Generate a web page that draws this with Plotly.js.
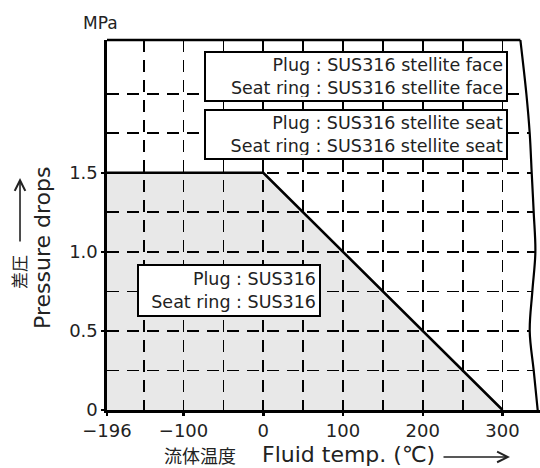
<!DOCTYPE html>
<html>
<head>
<meta charset="utf-8">
<script src="https://cdn.plot.ly/plotly-3.0.1.min.js"></script>
<style>html,body{margin:0;padding:0;background:#fff}#chart{width:540px;height:468px}</style>
</head>
<body>
<div id="chart"></div>
<script>
// ---- data ----
var limitTemp = [-196, 0, 300];          // °C
var limitPressure = [1.5, 1.5, 0];       // MPa
var xTickVals = [-196, -100, 0, 100, 200, 300];
var xTickText = ['\u2212196', '\u2212100', '0', '100', '200', '300'];
var xMinorVals = [-150, -50, 50, 150, 250];
var yTickVals = [0, 0.5, 1.0, 1.5];
var yTickText = ['0', '0.5', '1.0', '1.5'];
var yMinorVals = [0.25, 0.75, 1.25, 1.75, 2.0];
var boxTexts = [
  'Plug : SUS316 stellite face<br>Seat ring : SUS316 stellite face',
  'Plug : SUS316 stellite seat<br>Seat ring : SUS316 stellite seat',
  'Plug : SUS316<br>Seat ring : SUS316'
];
// break line on the right edge (decoration)
var breakX = [322.4, 329.9, 334.1, 336.6, 339.1, 341.2, 337.4, 334.1, 339.1, 344.1];
var breakY = [2.34, 2.0, 1.75, 1.5, 1.25, 1.0, 0.75, 0.5, 0.25, 0];

var XMIN = -196, XMAX = 347, YMAX = 2.34;
var F = 'DejaVu Sans, Noto Sans CJK JP, sans-serif';
var FJ = 'Noto Sans CJK JP, DejaVu Sans, sans-serif';

var traces = [
  { // white cover to the right of the break line
    x: breakX.concat([XMAX + 5, XMAX + 5]),
    y: breakY.concat([0, YMAX + 0.1]),
    mode: 'lines', fill: 'toself', fillcolor: '#ffffff',
    line: {width: 0, shape: 'spline'}, hoverinfo: 'skip', showlegend: false
  },
  { // shaded allowed region
    x: [limitTemp[0]].concat(limitTemp),
    y: [0].concat(limitPressure),
    mode: 'lines', fill: 'toself', fillcolor: 'rgba(0,0,0,0.09)',
    line: {width: 0}, hoverinfo: 'skip', showlegend: false
  },
  { // limit line
    x: limitTemp, y: limitPressure, mode: 'lines',
    line: {color: '#000', width: 2.6}, showlegend: false, cliponaxis: false
  },
  { // break line
    x: breakX, y: breakY, mode: 'lines',
    line: {color: '#000', width: 2.2, shape: 'spline'}, showlegend: false, cliponaxis: false
  }
];

var boxCommon = {xref: 'x', yref: 'y', showarrow: false, align: 'right',
  xanchor: 'center', yanchor: 'middle',
  bgcolor: '#fff', bordercolor: '#000', borderwidth: 2, borderpad: 3,
  font: {family: F, size: 17.5, color: '#222'}};

function label(x, y, text, size, fam, angle) {
  return {xref: 'paper', yref: 'paper', x: x, y: y, text: text, showarrow: false,
    xanchor: 'center', yanchor: 'middle', textangle: angle || 0,
    font: {family: fam, size: size, color: '#222'}};
}

var layout = {
  width: 540, height: 468,
  margin: {l: 107, r: 0, t: 40, b: 58},
  paper_bgcolor: '#fff', plot_bgcolor: '#fff',
  showlegend: false,
  xaxis: {
    range: [XMIN, XMAX], tickmode: 'array', tickvals: xTickVals, ticktext: xTickText,
    showgrid: true, gridcolor: '#000', gridwidth: 1.8, griddash: '12px,8px',
    minor: {tickmode: 'array', tickvals: xMinorVals, showgrid: true, gridcolor: '#000', gridwidth: 1.8, griddash: '12px,8px', ticks: ''},
    zeroline: false, showline: true, linecolor: '#000', linewidth: 2.6,
    ticks: 'outside', ticklen: 3, tickwidth: 2.5, tickcolor: '#000',
    tickfont: {family: F, size: 18, color: '#222'}, fixedrange: true
  },
  yaxis: {
    range: [0, YMAX], tickmode: 'array', tickvals: yTickVals, ticktext: yTickText,
    showgrid: true, gridcolor: '#000', gridwidth: 1.8, griddash: '12px,8px',
    minor: {tickmode: 'array', tickvals: yMinorVals, showgrid: true, gridcolor: '#000', gridwidth: 1.8, griddash: '12px,8px', ticks: ''},
    zeroline: false, showline: true, linecolor: '#000', linewidth: 2.6,
    ticks: 'outside', ticklen: 3, tickwidth: 2.5, tickcolor: '#000',
    tickfont: {family: F, size: 18, color: '#222'}, fixedrange: true
  },
  shapes: [
    {type: 'line', xref: 'x', yref: 'paper', x0: XMIN, x1: breakX[0], y0: 1, y1: 1,
     line: {color: '#000', width: 2.6}, layer: 'above'}
  ],
  annotations: [
    Object.assign({}, boxCommon, {x: 116, y: 2.11, text: boxTexts[0], width: 294, height: 41}),
    Object.assign({}, boxCommon, {x: 116, y: 1.74, text: boxTexts[1], width: 294, height: 41}),
    Object.assign({}, boxCommon, {x: -43, y: 0.755, text: boxTexts[2], width: 174, height: 43}),
    label(-0.0139, 1.046, 'MPa', 17, F),
    label(-0.1478, 0.438, 'Pressure drops', 22, F, -90),
    label(-0.2032, 0.373, '差圧', 17, FJ, -90),
    {xref: 'paper', yref: 'paper', x: -0.2009, y: 0.627, text: '', showarrow: true,
     ax: 0, ay: 65, arrowhead: 5, arrowsize: 1.3, arrowwidth: 1.6, arrowcolor: '#222'},
    label(0.2148, -0.1216, '流体温度', 18, FJ),
    Object.assign(label(0.3533, -0.1216, 'Fluid temp. (℃)', 22, F), {xanchor: 'left'}),
    {xref: 'paper', yref: 'paper', x: 0.9307, y: -0.127, text: '', showarrow: true,
     ax: -68, ay: 0, arrowhead: 5, arrowsize: 1.3, arrowwidth: 1.6, arrowcolor: '#222'}
  ]
};

Plotly.newPlot('chart', traces, layout, {displayModeBar: false, staticPlot: true});
</script>
</body>
</html>
